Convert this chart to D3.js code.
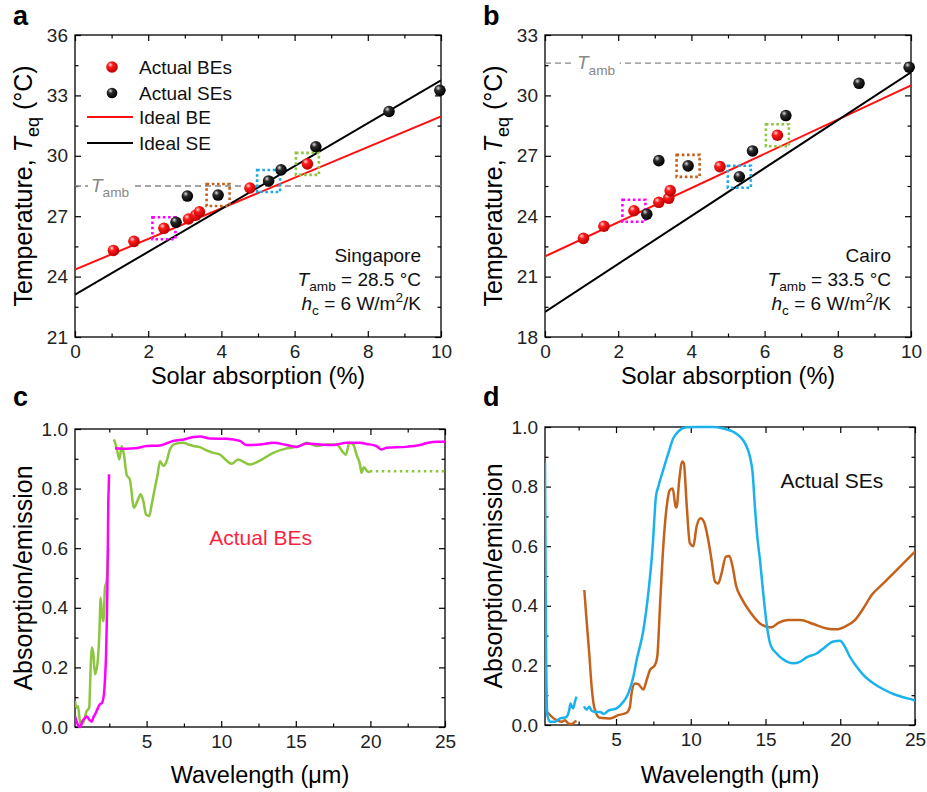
<!DOCTYPE html>
<html><head><meta charset="utf-8">
<script src="https://cdn.jsdelivr.net/npm/d3@7"></script>
<style>body{margin:0;background:#fff}svg{display:block}text{font-family:"Liberation Sans",Arial,sans-serif}</style>
</head><body><svg id="chart" width="927" height="792"></svg>
<script>
// ---------------- DATA ----------------
const absTicks = [0,2,4,6,8,10];
const absMinor = [1,3,5,7,9];
const tempTicksA = [21,24,27,30,33,36];
const tempTicksB = [18,21,24,27,30,33];
const wlTicks = [5,10,15,20,25];
const wlMinor = [2.5,7.5,12.5,17.5,22.5];
const emTicks = [0,0.2,0.4,0.6,0.8,1.0];
const emMinor = [0.1,0.3,0.5,0.7,0.9];
const legendLabels = ["Actual BEs","Actual SEs","Ideal BE","Ideal SE"];

// Panel a (Singapore)
const sgBE_x = [1.05,1.61,2.43,3.10,3.30,3.40,4.78,6.35];
const sgBE_T = [25.30,25.75,26.40,26.86,27.05,27.22,28.40,29.60];
const sgSE_x = [2.76,3.07,3.91,5.29,5.63,6.58,8.58,9.97];
const sgSE_T = [26.70,28.00,28.05,28.75,29.30,30.45,32.20,33.25];
const sgIdealBE = [[0,24.35],[10,31.95]];
const sgIdealSE = [[0,23.10],[10,33.75]];
const sgTamb = 28.5;
// Panel b (Cairo)
const caBE_x = [1.05,1.61,2.43,3.11,3.38,3.42,4.78,6.35];
const caBE_T = [22.90,23.50,24.27,24.69,24.89,25.27,26.46,28.02];
const caSE_x = [2.78,3.11,3.91,5.31,5.67,6.58,8.58,9.95];
const caSE_T = [24.10,26.76,26.50,25.96,27.24,29.00,30.60,31.40];
const caIdealBE = [[0,22.0],[10,30.5]];
const caIdealSE = [[0,19.25],[10,31.15]];
const caTamb = 31.6;
// highlighted samples: [series, index, colour]
const highlights = [["BE",2,"#ff00ff"],["SE",2,"#c0601a"],["SE",3,"#1aa8e6"],["BE",7,"#8cc63f"]];

// Panel c spectra (wavelength µm, absorption/emission)
const beMagentaUV = [[0.2,0.037],[0.3,0.02],[0.45,0.003],[0.55,0.0],[0.7,0.02],[0.87,0.03],[1.0,0.035],[1.15,0.025],[1.32,0.018],[1.45,0.035],[1.54,0.042],[1.7,0.06],[1.88,0.077],[2.0,0.08],[2.14,0.11],[2.22,0.17],[2.28,0.24],[2.33,0.35],[2.37,0.467],[2.4,0.6],[2.43,0.747],[2.46,0.8],[2.48,0.848]];
const beMagentaIR = [[2.88,0.935],[3.3,0.934],[3.66,0.934],[4.2,0.935],[5.0,0.943],[5.9,0.945],[6.4,0.953],[6.79,0.96],[7.5,0.965],[8.13,0.973],[8.6,0.975],[9.24,0.968],[10.36,0.967],[11.25,0.96],[11.7,0.946],[12.59,0.948],[13.49,0.954],[14.38,0.946],[15.05,0.94],[15.72,0.951],[16.61,0.948],[17.5,0.946],[18.4,0.954],[19.3,0.954],[19.74,0.95],[20.4,0.943],[20.74,0.931],[21.08,0.937],[22.4,0.94],[23.3,0.946],[23.86,0.954],[24.5,0.957],[25,0.957]];
const beGreenUV = [[0.2,0.087],[0.31,0.065],[0.4,0.07],[0.5,0.03],[0.58,0.009],[0.75,0.015],[0.98,0.053],[1.15,0.065],[1.25,0.2],[1.32,0.267],[1.42,0.25],[1.54,0.177],[1.7,0.21],[1.83,0.31],[1.92,0.434],[2.0,0.38],[2.1,0.355],[2.21,0.467],[2.32,0.49],[2.43,0.6]];
const beGreenIR = [[2.81,0.965],[2.99,0.937],[3.17,0.898],[3.33,0.942],[3.48,0.914],[3.66,0.847],[3.88,0.83],[4.15,0.736],[4.38,0.758],[4.6,0.781],[4.78,0.758],[4.96,0.713],[5.18,0.708],[5.34,0.747],[5.56,0.803],[5.72,0.842],[5.9,0.892],[6.12,0.876],[6.34,0.892],[6.56,0.931],[6.9,0.95],[7.46,0.954],[7.79,0.948],[8.13,0.943],[8.57,0.939],[9.02,0.928],[9.47,0.92],[9.91,0.914],[10.36,0.894],[10.69,0.883],[11.14,0.898],[11.59,0.887],[11.92,0.881],[12.59,0.894],[13.49,0.92],[14.38,0.935],[15.27,0.943],[15.72,0.954],[16.39,0.943],[17.06,0.948],[17.73,0.948],[18.2,0.92],[18.35,0.914],[18.6,0.954],[18.85,0.948],[19.07,0.914],[19.3,0.881],[19.4,0.853],[19.56,0.872],[19.85,0.856],[19.96,0.858]];
const beGreenExtrap = [[19.96,0.858],[25,0.858]];

// Panel d spectra
const seBlueUV = [[0.25,0.88],[0.27,0.7],[0.3,0.4],[0.33,0.2],[0.37,0.07],[0.42,0.03],[0.58,0.011],[0.92,0.011],[1.25,0.022],[1.47,0.024],[1.7,0.028],[1.87,0.05],[1.96,0.072],[2.05,0.061],[2.14,0.056],[2.25,0.078],[2.36,0.095]];
const seBlueIR = [[2.86,0.063],[3.03,0.052],[3.21,0.061],[3.37,0.048],[3.59,0.044],[3.93,0.044],[4.19,0.037],[4.48,0.048],[5.04,0.056],[5.49,0.078],[5.82,0.106],[6.16,0.162],[6.38,0.218],[6.83,0.318],[7.16,0.442],[7.45,0.598],[7.67,0.766],[7.83,0.8],[8.16,0.856],[8.5,0.912],[8.83,0.962],[9.17,0.985],[9.72,0.999],[10.39,1.0],[11.5,1.0],[12.18,0.995],[12.84,0.984],[13.29,0.968],[13.63,0.945],[13.96,0.9],[14.14,0.845],[14.29,0.733],[14.45,0.632],[14.63,0.554],[14.85,0.442],[15.07,0.341],[15.34,0.268],[15.74,0.24],[16.19,0.22],[16.86,0.207],[17.3,0.212],[17.75,0.227],[18.42,0.24],[18.87,0.257],[19.54,0.28],[19.98,0.283],[20.31,0.263],[20.64,0.229],[21.09,0.196],[21.54,0.168],[22.21,0.14],[22.88,0.12],[23.55,0.104],[24.22,0.093],[24.89,0.084],[25,0.082]];
const seBrownUV = [[0.25,0.38],[0.27,0.2],[0.3,0.08],[0.35,0.045],[0.48,0.039],[0.69,0.028],[1.03,0.016],[1.36,0.011],[1.59,0.016],[1.81,0.005],[2.03,0.003],[2.25,0.011],[2.36,0.014]];
const seBrownIR = [[2.88,0.453],[3.03,0.352],[3.21,0.24],[3.37,0.128],[3.59,0.05],[3.93,0.024],[4.6,0.022],[5.15,0.033],[5.71,0.041],[5.93,0.061],[6.04,0.106],[6.27,0.139],[6.49,0.137],[6.83,0.119],[7.05,0.151],[7.27,0.184],[7.6,0.201],[7.76,0.229],[7.94,0.397],[8.16,0.598],[8.39,0.733],[8.61,0.789],[8.79,0.794],[8.99,0.733],[9.05,0.73],[9.23,0.822],[9.41,0.884],[9.54,0.878],[9.72,0.744],[9.94,0.61],[10.17,0.6],[10.39,0.666],[10.66,0.694],[10.88,0.682],[11.17,0.621],[11.39,0.554],[11.62,0.481],[11.84,0.475],[12.06,0.509],[12.35,0.565],[12.58,0.567],[12.8,0.531],[13.02,0.47],[13.4,0.425],[13.96,0.38],[14.63,0.341],[15.07,0.33],[15.41,0.328],[15.86,0.343],[16.52,0.352],[17.3,0.352],[18.2,0.339],[19.09,0.324],[19.76,0.321],[20.31,0.33],[20.98,0.352],[21.54,0.391],[22.1,0.436],[22.88,0.475],[23.77,0.52],[25.0,0.582]];

// ---------------- DRAW ----------------
const svg = d3.select("#chart");
const FS_TICK = 19, FS_TITLE = 23.5;
const defs = svg.append("defs");
function ballGrad(id, c0, c1, c2){
  const g = defs.append("radialGradient").attr("id",id).attr("cx","38%").attr("cy","35%").attr("r","65%").attr("fx","35%").attr("fy","30%");
  g.append("stop").attr("offset","0%").attr("stop-color",c0);
  g.append("stop").attr("offset","35%").attr("stop-color",c1);
  g.append("stop").attr("offset","100%").attr("stop-color",c2);
}
ballGrad("gRed","#ffd8d8","#ff1a1a","#b80000");
ballGrad("gBlack","#e0e0e0","#2a2a2a","#000000");

function rich(t, parts, fs){
  let shift = 0;
  parts.forEach(p=>{
    const ts = t.append("tspan").text(p.t);
    const target = p.sub ? fs*0.28 : (p.sup ? -fs*0.4 : 0);
    const dy = target - shift; shift = target;
    if (dy) ts.attr("dy", dy);
    if (p.sub || p.sup) ts.attr("font-size", fs*0.72);
    if (p.it) ts.attr("font-style","italic");
  });
}

function frame(g, x, y, xMaj, xMin, yMaj, yMin, xFmt, yFmt){
  const [x0,x1] = x.range(), [y0,y1] = y.range();
  const style = s => { s.select(".domain").remove(); s.selectAll("line").attr("stroke","#000").attr("stroke-width",1.2);
    s.selectAll("text").attr("font-size",FS_TICK).attr("fill","#222").attr("font-family","Liberation Sans, Arial, sans-serif"); };
  g.append("g").attr("transform",`translate(0,${y0})`).call(d3.axisBottom(x).tickValues(xMaj).tickSizeInner(-6).tickSizeOuter(0).tickPadding(8).tickFormat(xFmt)).call(style);
  g.append("g").attr("transform",`translate(0,${y0})`).call(d3.axisBottom(x).tickValues(xMin).tickSizeInner(-3.5).tickSizeOuter(0).tickFormat("")).call(style);
  g.append("g").attr("transform",`translate(0,${y1})`).call(d3.axisTop(x).tickValues(xMaj).tickSizeInner(-6).tickSizeOuter(0).tickFormat("")).call(style);
  g.append("g").attr("transform",`translate(0,${y1})`).call(d3.axisTop(x).tickValues(xMin).tickSizeInner(-3.5).tickSizeOuter(0).tickFormat("")).call(style);
  g.append("g").attr("transform",`translate(${x0},0)`).call(d3.axisLeft(y).tickValues(yMaj).tickSizeInner(-6).tickSizeOuter(0).tickPadding(7).tickFormat(yFmt)).call(style);
  g.append("g").attr("transform",`translate(${x0},0)`).call(d3.axisLeft(y).tickValues(yMin).tickSizeInner(-3.5).tickSizeOuter(0).tickFormat("")).call(style);
  g.append("g").attr("transform",`translate(${x1},0)`).call(d3.axisRight(y).tickValues(yMaj).tickSizeInner(-6).tickSizeOuter(0).tickFormat("")).call(style);
  g.append("g").attr("transform",`translate(${x1},0)`).call(d3.axisRight(y).tickValues(yMin).tickSizeInner(-3.5).tickSizeOuter(0).tickFormat("")).call(style);
  g.append("rect").attr("x",x0).attr("y",y1).attr("width",x1-x0).attr("height",y0-y1).attr("fill","none").attr("stroke","#000").attr("stroke-width",1.3);
}

function tempPanel(opt){
  const g = svg.append("g");
  const x = d3.scaleLinear().domain([0,10]).range(opt.xr);
  const y = d3.scaleLinear().domain(opt.yd).range([337,35]);
  const cid = "clip"+opt.letter;
  defs.append("clipPath").attr("id",cid).append("rect").attr("x",opt.xr[0]).attr("y",35).attr("width",opt.xr[1]-opt.xr[0]).attr("height",302);
  const minorY = d3.range(opt.yd[0]+1.5, opt.yd[1], 3);
  frame(g, x, y, absTicks, absMinor, opt.yt, minorY, d3.format("d"), d3.format("d"));
  const pg = g.append("g").attr("clip-path",`url(#${cid})`);
  // T_amb dashed line
  pg.append("line").attr("x1",opt.xr[0]).attr("x2",opt.xr[1]).attr("y1",y(opt.tamb)).attr("y2",y(opt.tamb))
    .attr("stroke","#888").attr("stroke-width",1.3).attr("stroke-dasharray","6,4");
  const bg = g.append("rect").attr("fill","#fff");
  const lbl = g.append("text").attr("x",opt.tambX).attr("y",y(opt.tamb)+6).attr("fill","#888").attr("font-size",19);
  rich(lbl,[{t:"T",it:true},{t:"amb",sub:true}],19);
  const bb = lbl.node().getBBox();
  bg.attr("x",bb.x-3).attr("y",bb.y).attr("width",bb.width+7).attr("height",bb.height);
  // ideal lines
  const line = d3.line().x(d=>x(d[0])).y(d=>y(d[1]));
  const lg = g.append("g").attr("clip-path",`url(#${cid})`);
  lg.append("path").attr("d",line(opt.idealBE)).attr("stroke","#ff1010").attr("stroke-width",2).attr("fill","none");
  lg.append("path").attr("d",line(opt.idealSE)).attr("stroke","#000").attr("stroke-width",2).attr("fill","none");
  // highlight boxes
  highlights.forEach(([s,i,c])=>{
    const px = x(s==="BE"?opt.bex[i]:opt.sex[i]), py = y(s==="BE"?opt.bet[i]:opt.set[i]);
    g.append("rect").attr("x",px-11.5).attr("y",py-11).attr("width",23).attr("height",22)
      .attr("fill","none").attr("stroke",c).attr("stroke-width",2.6).attr("stroke-dasharray","2.6,2.6");
  });
  // points
  const seData = opt.sex.map((v,i)=>[v,opt.set[i]]);
  const beData = opt.bex.map((v,i)=>[v,opt.bet[i]]);
  g.append("g").selectAll("circle").data(seData).join("circle").attr("cx",d=>x(d[0])).attr("cy",d=>y(d[1])).attr("r",5.8).attr("fill","url(#gBlack)");
  g.append("g").selectAll("circle").data(beData).join("circle").attr("cx",d=>x(d[0])).attr("cy",d=>y(d[1])).attr("r",5.8).attr("fill","url(#gRed)");
  // annotations
  const ax = opt.xr[1]-20;
  g.append("text").attr("x",ax).attr("y",262).attr("text-anchor","end").attr("font-size",19).attr("fill","#111").text(opt.city);
  rich(g.append("text").attr("x",ax).attr("y",286).attr("text-anchor","end").attr("font-size",19).attr("fill","#111"),
    [{t:"T",it:true},{t:"amb",sub:true},{t:" = "+opt.tText+" °C"}],19);
  rich(g.append("text").attr("x",ax).attr("y",310).attr("text-anchor","end").attr("font-size",19).attr("fill","#111"),
    [{t:"h",it:true},{t:"c",sub:true},{t:" = 6 W/m"},{t:"2",sup:true},{t:"/K"}],19);
  // axis titles
  const cx = (opt.xr[0]+opt.xr[1])/2;
  g.append("text").attr("x",cx).attr("y",384).attr("text-anchor","middle").attr("font-size",FS_TITLE).text("Solar absorption (%)");
  const yt = g.append("text").attr("transform",`translate(${opt.xr[0]-43},186) rotate(-90)`).attr("text-anchor","middle").attr("font-size",25);
  rich(yt,[{t:"Temperature, "},{t:"T",it:true},{t:"eq",sub:true},{t:" (°C)"}],25);
  g.append("text").attr("x",opt.xr[0]-62).attr("y",25).attr("font-size",27).attr("font-weight","bold").text(opt.letter);
  return {g,x,y};
}

const A = tempPanel({letter:"a", xr:[75,441], yd:[21,36], yt:tempTicksA, tamb:sgTamb, tambX:91,
  bex:sgBE_x, bet:sgBE_T, sex:sgSE_x, set:sgSE_T, idealBE:sgIdealBE, idealSE:sgIdealSE, city:"Singapore", tText:"28.5"});
const B = tempPanel({letter:"b", xr:[545,911], yd:[18,33], yt:tempTicksB, tamb:caTamb, tambX:577,
  bex:caBE_x, bet:caBE_T, sex:caSE_x, set:caSE_T, idealBE:caIdealBE, idealSE:caIdealSE, city:"Cairo", tText:"33.5"});

// legend in panel a
{
  const g = svg.append("g");
  const ly = [67,93,117,143];
  g.append("circle").attr("cx",112).attr("cy",ly[0]).attr("r",5.8).attr("fill","url(#gRed)");
  g.append("circle").attr("cx",112).attr("cy",ly[1]).attr("r",5.3).attr("fill","url(#gBlack)");
  g.append("line").attr("x1",87).attr("x2",133).attr("y1",ly[2]).attr("y2",ly[2]).attr("stroke","#ff1010").attr("stroke-width",2);
  g.append("line").attr("x1",87).attr("x2",133).attr("y1",ly[3]).attr("y2",ly[3]).attr("stroke","#000").attr("stroke-width",2);
  legendLabels.forEach((t,i)=>g.append("text").attr("x",139).attr("y",ly[i]+7).attr("font-size",19).attr("fill","#111").text(t));
}

function specPanel(opt){
  const g = svg.append("g");
  const x = d3.scaleLinear().domain(opt.xd).range(opt.xr);
  const y = d3.scaleLinear().domain([0,1]).range(opt.yr);
  frame(g, x, y, wlTicks, wlMinor, emTicks, emMinor, d3.format("d"), d3.format(".1f"));
  const cid = "clip"+opt.letter;
  defs.append("clipPath").attr("id",cid).append("rect").attr("x",opt.xr[0]).attr("y",opt.yr[1]-2).attr("width",opt.xr[1]-opt.xr[0]).attr("height",opt.yr[0]-opt.yr[1]+3);
  const pg = g.append("g").attr("clip-path",`url(#${cid})`);
  const line = d3.line().x(d=>x(d[0])).y(d=>y(d[1])).curve(d3.curveMonotoneX);
  opt.series.forEach(s=>{
    pg.append("path").attr("d",line(s.d)).attr("fill","none").attr("stroke",s.c).attr("stroke-width",s.w||2.5)
      .attr("stroke-linejoin","round").attr("stroke-dasharray",s.dash||null);
  });
  const cx = (opt.xr[0]+opt.xr[1])/2;
  g.append("text").attr("x",cx).attr("y",783).attr("text-anchor","middle").attr("font-size",FS_TITLE).text("Wavelength (μm)");
  g.append("text").attr("transform",`translate(${opt.xr[0]-43},${(opt.yr[0]+opt.yr[1])/2}) rotate(-90)`).attr("text-anchor","middle").attr("font-size",25).text("Absorption/emission");
  g.append("text").attr("x",opt.xr[0]-62).attr("y",406).attr("font-size",27).attr("font-weight","bold").text(opt.letter);
  g.append("text").attr("x",x(opt.labelAt[0])).attr("y",y(opt.labelAt[1])).attr("font-size",21).attr("fill",opt.labelColor).text(opt.label);
  return g;
}

specPanel({letter:"c", xd:[0.2,25], xr:[75,445], yr:[727,429], label:"Actual BEs", labelColor:"#ff1f3f", labelAt:[9.2,0.61],
  series:[
    {d:beGreenUV,c:"#8cc63f"},{d:beGreenIR,c:"#8cc63f"},{d:beGreenExtrap,c:"#8cc63f",dash:"2.5,3.5"},
    {d:beMagentaUV,c:"#ff00ff"},{d:beMagentaIR,c:"#ff00ff"}]});
specPanel({letter:"d", xd:[0.25,25], xr:[545,915], yr:[725,427], label:"Actual SEs", labelColor:"#111", labelAt:[16.0,0.795],
  series:[
    {d:seBrownUV,c:"#c4621c"},{d:seBrownIR,c:"#c4621c"},
    {d:seBlueUV,c:"#1ab2ec"},{d:seBlueIR,c:"#1ab2ec"}]});
</script></body></html>
